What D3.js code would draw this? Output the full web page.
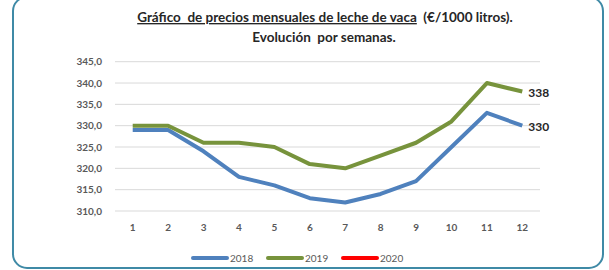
<!DOCTYPE html>
<html>
<head>
<meta charset="utf-8">
<script src="https://cdn.jsdelivr.net/npm/d3@7"></script>
<style>
  body { margin: 0; background: #fff; }
  svg { display: block; }
  text { white-space: pre; }
</style>
</head>
<body>
<svg id="chart" width="609" height="270"></svg>
<script>
var months = [1, 2, 3, 4, 5, 6, 7, 8, 9, 10, 11, 12];
var values2018 = [329, 329, 324, 318, 316, 313, 312, 314, 317, 325, 333, 330];
var values2019 = [330, 330, 326, 326, 325, 321, 320, 323, 326, 331, 340, 338];
var values2020 = [];
var yTicks = [310, 315, 320, 325, 330, 335, 340, 345];
var seriesNames = ["2018", "2019", "2020"];
var seriesColors = ["#4f81bd", "#77933c", "#ff0000"];

var svg = d3.select("#chart");
var font = "Lato, 'Open Sans', sans-serif";

// frame
svg.append("rect")
  .attr("x", 13).attr("y", -3)
  .attr("width", 590).attr("height", 271)
  .attr("rx", 14)
  .attr("fill", "#fff")
  .attr("stroke", "#3f8aa6")
  .attr("stroke-width", 2);

// title
var title = svg.append("text")
  .attr("x", 325).attr("y", 22)
  .attr("text-anchor", "middle")
  .attr("font-family", font).attr("font-weight", "bold")
  .attr("font-size", 13.5).attr("fill", "#262626");
title.append("tspan")
  .attr("text-decoration", "underline")
  .text("Gráfico  de precios mensuales de leche de vaca");
title.append("tspan").text("  (€/1000 litros).");

svg.append("text")
  .attr("x", 324).attr("y", 42)
  .attr("text-anchor", "middle")
  .attr("font-family", font).attr("font-weight", "bold")
  .attr("font-size", 13.5).attr("fill", "#262626")
  .text("Evolución  por semanas.");

var xScale = d3.scaleBand().domain(months).range([115, 540]),
  yScale = d3.scaleLinear().domain([310, 345]).range([211, 61.7]);

// grid
svg.append("g")
  .selectAll("line")
  .data(yTicks)
  .enter().append("line")
  .attr("x1", 115).attr("x2", 540)
  .attr("y1", function(d) { return yScale(d); })
  .attr("y2", function(d) { return yScale(d); })
  .attr("stroke", "#d9d9d9")
  .attr("stroke-width", 1);

var yAxis = svg.append("g")
  .attr("transform", "translate(102,0)")
  .call(d3.axisLeft(yScale).tickValues(yTicks).tickSize(0).tickPadding(0)
    .tickFormat(function(d) { return d3.format(".1f")(d).replace(".", ","); }));
yAxis.select(".domain").remove();
yAxis.selectAll("text")
  .attr("font-family", font).attr("font-weight", "bold")
  .attr("font-size", 10).attr("fill", "#595959");

var xAxis = svg.append("g")
  .attr("transform", "translate(0,219)")
  .call(d3.axisBottom(xScale).tickSize(0).tickPadding(5));
xAxis.select(".domain").remove();
xAxis.selectAll("text")
  .attr("font-family", font).attr("font-weight", "bold")
  .attr("font-size", 10).attr("fill", "#595959");

var line = d3.line()
  .x(function(d, i) { return xScale(months[i]) + xScale.bandwidth() / 2; })
  .y(function(d) { return yScale(d); });

[values2018, values2019, values2020].forEach(function(vals, k) {
  if (!vals.length) return;
  svg.append("path")
    .datum(vals)
    .attr("fill", "none")
    .attr("stroke", seriesColors[k])
    .attr("stroke-width", 4)
    .attr("stroke-linejoin", "round")
    .attr("d", line);
  var last = vals[vals.length - 1];
  svg.append("text")
    .attr("x", xScale(12) + xScale.bandwidth() / 2 + 6)
    .attr("y", yScale(last) + 5)
    .attr("font-family", font).attr("font-weight", "bold")
    .attr("font-size", 12).attr("fill", "#262626")
    .text(last);
});

// legend
var legendX = [193, 268, 343];
var legend = svg.append("g");
seriesNames.forEach(function(name, k) {
  legend.append("line")
    .attr("x1", legendX[k]).attr("x2", legendX[k] + 34)
    .attr("y1", 258).attr("y2", 258)
    .attr("stroke", seriesColors[k])
    .attr("stroke-width", 4)
    .attr("stroke-linecap", "round");
  legend.append("text")
    .attr("x", legendX[k] + 37).attr("y", 262)
    .attr("font-family", font)
    .attr("font-size", 10).attr("fill", "#595959")
    .text(name);
});
</script>
</body>
</html>
